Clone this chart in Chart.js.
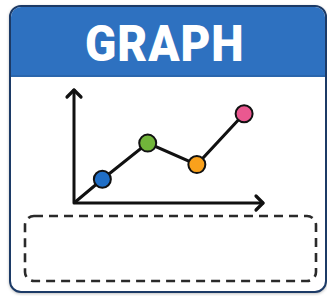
<!DOCTYPE html>
<html lang="en">
<head>
    <meta charset="UTF-8">
    <title>Graph</title>
    <script src="https://cdn.jsdelivr.net/npm/chart.js"></script>
    <style>
        body { margin: 0; background: #fff; }
        #wrap { position: relative; width: 327px; height: 296px; overflow: hidden; }
        .card {
            position: absolute; left: 9px; top: 5px; width: 318px; height: 288px;
            box-sizing: border-box; border: 2px solid #1c3a66; border-radius: 12px;
            background: #fff; overflow: hidden;
            box-shadow: 0 1px 3px rgba(0,0,0,0.25);
        }
        .header {
            height: 68px; background: #2e71c0; border-bottom: 2px solid #2a66ad;
            text-align: center;
        }
        .header span {
            display: inline-block; color: #fff; font-family: Roboto, sans-serif;
            font-weight: 900; font-size: 50px; line-height: 68px;
            letter-spacing: 1px; transform: translate(-3px, 3px) scaleX(0.92);
        }
        #grafico { position: absolute; left: 0; top: 0; }
    </style>
</head>
<body>
<div id="wrap">
    <div class="card"><div class="header"><span>GRAPH</span></div></div>
    <canvas id="grafico" width="327" height="296"></canvas>
</div>
<script>
    // valores (eixos 0..10)
    var posX = [0, 1.5, 3.9, 6.5, 9.0];
    var valores = [0, 2.1, 5.3, 3.4, 7.9];
    var coresPontos = ['rgba(0,0,0,0)', '#1f6ec6', '#71b53a', '#f9a11c', '#ea5890'];
    var raios = [0, 8.5, 8.5, 8.5, 8.5];

    var pontos = [];
    for (i = 0; i < posX.length; i++) {
        pontos.push({ x: posX[i], y: valores[i] });
    }

    // eixos com setas e a caixa tracejada
    const desenhos = {
        id: 'desenhos',
        beforeDatasetsDraw(chart) {
            const ctx = chart.ctx;
            const a = chart.chartArea;
            ctx.save();
            ctx.strokeStyle = '#111';
            ctx.lineWidth = 3;
            ctx.lineCap = 'round';
            ctx.lineJoin = 'round';
            ctx.beginPath();
            ctx.moveTo(a.left, a.top);
            ctx.lineTo(a.left, a.bottom);
            ctx.lineTo(a.right, a.bottom);
            ctx.stroke();
            // setas
            ctx.lineWidth = 3.2;
            ctx.beginPath();
            ctx.moveTo(a.left - 7, a.top + 7);
            ctx.lineTo(a.left, a.top);
            ctx.lineTo(a.left + 7, a.top + 7);
            ctx.moveTo(a.right - 7, a.bottom - 7);
            ctx.lineTo(a.right, a.bottom);
            ctx.lineTo(a.right - 7, a.bottom + 7);
            ctx.stroke();

            // caixa tracejada
            ctx.strokeStyle = '#2a2a2a';
            ctx.lineWidth = 2.6;
            ctx.lineCap = 'butt';
            ctx.setLineDash([9, 6]);
            ctx.beginPath();
            ctx.roundRect(25, 216, 291, 65, 9);
            ctx.stroke();
            ctx.restore();
        }
    };

    const config = {
        type: 'line',
        data: {
            datasets: [{
                data: pontos,
                borderColor: '#111',
                borderWidth: 3,
                pointRadius: raios,
                pointHoverRadius: raios,
                pointBackgroundColor: coresPontos,
                pointBorderColor: ['rgba(0,0,0,0)', '#111', '#111', '#111', '#111'],
                pointBorderWidth: 2,
                tension: 0,
                clip: false
            }]
        },
        options: {
            responsive: false,
            animation: false,
            layout: { padding: { left: 74, top: 90, right: 64, bottom: 93 } },
            plugins: { legend: { display: false }, tooltip: { enabled: false } },
            scales: {
                x: { type: 'linear', min: 0, max: 10, display: false },
                y: { min: 0, max: 10, display: false }
            }
        },
        plugins: [desenhos]
    };

    var myChart = new Chart(document.getElementById('grafico'), config);
</script>
</body>
</html>
